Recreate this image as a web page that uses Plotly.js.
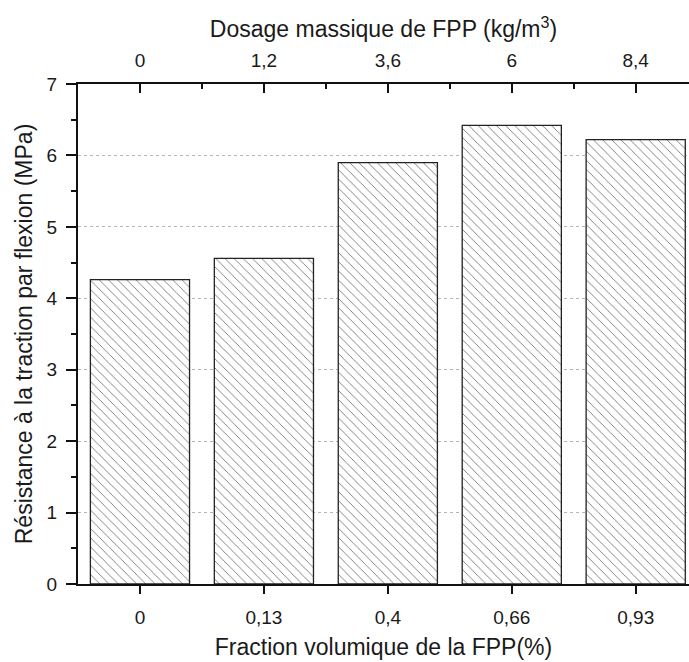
<!DOCTYPE html>
<html>
<head>
<meta charset="utf-8">
<script src="https://cdn.plot.ly/plotly-3.0.1.min.js"></script>
<style>
  html, body { margin: 0; padding: 0; background: #fff; }
  #plot { width: 689px; height: 662px; }
</style>
</head>
<body>
<div id="plot"></div>
<script>
// Data
let fractions = ['0', '0,13', '0,4', '0,66', '0,93']      // % volume (bottom axis)
let dosages = ['0', '1,2', '3,6', '6', '8,4']             // kg/m3 (top axis)
let resistance = [4.26, 4.56, 5.90, 6.42, 6.22]           // MPa

let positions = fractions.map((f, i) => i)
let midpoints = positions.slice(0, -1).map(p => p + 0.5)

let textFont = {family: 'Arial, "Liberation Sans", sans-serif', color: '#1a1a1a'}

// Hatched bars
let bars = {
    x: fractions,
    y: resistance,
    type: 'bar',
    width: 0.8,
    marker: {
        color: '#ffffff',
        line: {color: '#222', width: 1.3},
        pattern: {shape: '\\', fgcolor: '#7a7a7a', bgcolor: '#ffffff', size: 6.5, solidity: 0.14}
    },
    hoverinfo: 'x+y',
    showlegend: false
};

// Invisible trace so the top axis exists
let ghost = {
    x: positions,
    y: resistance,
    xaxis: 'x2',
    type: 'scatter',
    mode: 'markers',
    marker: {opacity: 0},
    hoverinfo: 'skip',
    showlegend: false
};

let layout = {
    width: 689,
    height: 662,
    margin: {l: 78, r: 0, t: 84, b: 78},
    paper_bgcolor: '#fff',
    plot_bgcolor: '#fff',
    font: Object.assign({size: 19}, textFont),
    xaxis: {
        type: 'category',
        range: [-0.5, 4.43],
        showline: true, linecolor: '#111', linewidth: 2,
        ticks: 'outside', ticklen: 8, tickwidth: 1.5, tickcolor: '#111',
        ticklabelstandoff: 7,
        showgrid: false, zeroline: false,
        tickfont: {size: 19},
        title: {text: 'Fraction volumique de la FPP(%)', font: {size: 23}, standoff: 12}
    },
    xaxis2: {
        overlaying: 'x',
        side: 'top',
        anchor: 'y',
        range: [-0.5, 4.43],
        tickmode: 'array',
        tickvals: positions,
        ticktext: dosages,
        showline: true, linecolor: '#111', linewidth: 2,
        ticks: 'inside', ticklen: 9, tickwidth: 1.5, tickcolor: '#111',
        minor: {tickmode: 'array', tickvals: midpoints, ticks: 'inside', ticklen: 5, tickwidth: 1.5, tickcolor: '#111'},
        ticklabelstandoff: 7,
        showgrid: false, zeroline: false,
        tickfont: {size: 19},
        title: {text: 'Dosage massique de FPP (kg/m<sup>3</sup>)', font: {size: 23}, standoff: 6}
    },
    yaxis: {
        range: [0, 7],
        dtick: 1,
        showline: true, linecolor: '#111', linewidth: 2,
        ticks: 'outside', ticklen: 10, tickwidth: 1.5, tickcolor: '#111',
        minor: {dtick: 0.5, ticks: 'outside', ticklen: 5, tickwidth: 1.5, tickcolor: '#111'},
        ticklabelstandoff: 5,
        showgrid: true, gridcolor: '#b5b5b5', gridwidth: 1, griddash: 'dot',
        zeroline: false,
        tickfont: {size: 19},
        title: {text: 'Résistance à la traction par flexion (MPa)', font: {size: 23}, standoff: 8}
    },
    bargap: 0.2
};

Plotly.newPlot('plot', [bars, ghost], layout, {displayModeBar: false});
</script>
</body>
</html>
